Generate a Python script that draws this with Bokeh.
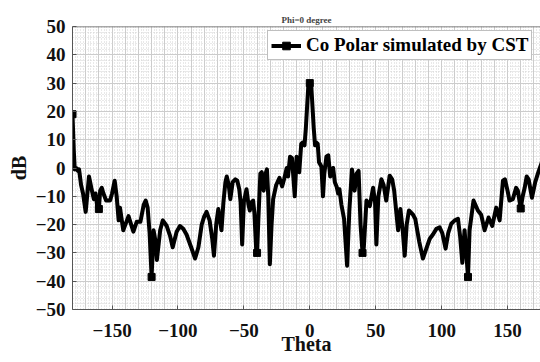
from bokeh.plotting import figure
from bokeh.models import (ColumnDataSource, SingleIntervalTicker, Range1d,
                          Legend, LegendItem, Span)
from bokeh.embed import file_html
from bokeh.resources import INLINE

# Co-polar far-field cut (phi = 0), simulated gain in dB versus theta in degrees
theta_deg = [
    -180, -179, -178.3, -177.2, -176, -175, -173.5, -172, -170, -167.5,
    -165.5, -163.8, -162.5, -161, -160, -159, -157.8, -156.5, -154.5, -151.5,
    -150, -148, -146.5, -145, -144, -141.5, -137.5, -135.5, -133.8, -131.3,
    -128.5, -126, -124.5, -123, -121.5, -120, -118.5, -117, -116, -113.5,
    -111.5, -108.5, -106, -104, -101, -98.5, -96, -93.5, -90, -87,
    -84.5, -82, -80, -78.3, -76, -74, -72.7, -71, -69.4, -67,
    -65.5, -64, -63, -61.5, -60.3, -58.5, -56.5, -55, -53.5, -52.5,
    -51.3, -50, -48, -46.5, -45.5, -44, -43, -42, -40.5, -40,
    -39, -37.5, -36.5, -35, -33.5, -32.5, -31.5, -30.3, -29, -27.8,
    -25.5, -23, -21, -19.5, -17.5, -16.5, -15, -13.5, -12.5, -11.4,
    -10, -9, -8, -6.5, -5.5, -4, -3, -2, -1, 0,
    1, 2, 3, 4, 5, 6, 7, 8.8, 10, 11,
    12.6, 14, 15.5, 17.7, 19, 20.3, 21.5, 22.5, 24, 26,
    28.3, 30, 32, 34, 35.5, 37, 38.5, 40, 41, 43,
    45.5, 48, 49.5, 50.5, 52, 54.3, 56, 58, 60.6, 62.5,
    64, 65.7, 67, 68.7, 70.5, 72, 73.5, 75.2, 78.3, 80,
    83, 85.8, 88, 91, 93.4, 96, 98.5, 100.5, 103, 105,
    107.3, 110, 112.4, 114, 115.7, 117.4, 118.7, 120, 121.2, 124.2,
    127.5, 130, 132.6, 135.6, 138.4, 141.4, 144, 146.5, 148, 150,
    151.5, 154, 156.5, 157.8, 160, 161.5, 163, 164.5, 166, 168.5,
    171, 173, 174.5, 176, 178, 180,
]
co_polar_db = [
    19, 6, -0.5, 0, -1, -0.5, -6, -9, -15.5, -3,
    -7.5, -11, -9, -14.5, -14.5, -8, -7, -9, -11.5, -11.5,
    -9, -4.5, -10, -18.5, -14, -22, -17, -20, -22.5, -19,
    -19, -13, -11.5, -14, -23, -38.5, -22, -26, -32.5, -22,
    -18.5, -20.5, -24, -28, -22.5, -20.5, -21.5, -23.5, -28, -32,
    -28, -20, -17, -15.5, -18.5, -25, -31, -20, -14.5, -22,
    -12, -5, -3, -6, -11, -5, -4, -4.5, -7.5, -12,
    -27, -12, -7.5, -13, -15, -12, -11.5, -16, -30.5, -30,
    -18, -2, -1.5, -8, -2, -0.5, -10, -34, -20, -11,
    -6, -3.5, -6.5, -4, 0, -3, 4, 3.5, -3, -10,
    4, 2, -1.5, 8.5, 9, 8, 14, 22, 30, 30,
    30, 22, 14, 8, 9, 8.5, 2, 0.5, -10, -2,
    4, 4.5, -3, 0, -5, -6.5, -9, -7.5, -13, -18,
    -34.5, -15, -0.5, -8, -2, -1, -20, -30, -28, -11.5,
    -13.5, -7, -12, -27, -10, -4, -6, -11.5, -2.7, -4,
    -8, -16, -22, -14.5, -22, -31, -20, -15, -16.5, -18,
    -26, -32, -29, -25, -23.5, -21.5, -21, -23, -28.5, -23,
    -19.7, -18.5, -18, -24, -33.5, -22, -30, -38.5, -22, -11.5,
    -15, -16.5, -22, -17.5, -20.5, -14, -18.5, -4.5, -4, -8,
    -11.5, -11, -7, -8, -14.3, -10, -7, -3, -4, -10.5,
    -5, -2, 0, 2, 8, 19,
]
# angles at which the square markers are drawn on the curve
marker_theta = [-180, -160, -120, -40, 0, 40, 120, 160]

x_tick_step = 50
y_tick_step = 10
y_max = 50
series_label = "Co Polar simulated by CST"
chart_title = "Phi=0 degree"

SERIF = "Liberation Serif"

lookup = dict(zip(theta_deg, co_polar_db))
marker_db = [lookup[t] for t in marker_theta]

p = figure(width=540, height=362, output_backend="svg", toolbar_location=None,
           x_range=Range1d(-180, 175), y_range=Range1d(-50, y_max),
           min_border_left=72, min_border_right=0, min_border_top=26,
           min_border_bottom=53, title=chart_title)
p.background_fill_color = "white"
p.border_fill_color = "white"
p.outline_line_color = None

p.title.text_font = SERIF
p.title.text_font_style = "bold"
p.title.text_font_size = "9px"
p.title.align = "center"
p.title.standoff = 3
p.title.offset = 3

for ax in (p.xaxis[0], p.yaxis[0]):
    ax.axis_line_color = "#555555"
    ax.axis_line_width = 1
    ax.major_tick_in = 4
    ax.major_tick_out = 0
    ax.major_tick_line_color = "#555555"
    ax.minor_tick_line_color = None
    ax.major_label_text_font = SERIF
    ax.major_label_text_font_style = "bold"
    ax.major_label_text_font_size = "19px"
    ax.major_label_text_color = "#111111"
    ax.axis_label_text_font = SERIF
    ax.axis_label_text_font_style = "bold"
    ax.axis_label_text_font_size = "20px"
    ax.axis_label_text_color = "#111111"

p.xaxis.ticker = SingleIntervalTicker(interval=x_tick_step, num_minor_ticks=0)
p.yaxis.ticker = SingleIntervalTicker(interval=y_tick_step, num_minor_ticks=0)
p.xaxis.axis_label = "Theta"
p.yaxis.axis_label = "dB"
p.xaxis.major_label_standoff = 14
p.xaxis.axis_label_standoff = -7
p.yaxis.major_label_standoff = 7
p.yaxis.axis_label_standoff = 3

# top edge of the axes box
p.add_layout(Span(location=y_max, dimension="width", line_color="#555555",
                  line_width=1.5))

# grid: solid every 10 units, dotted minor lines every 2 units
p.xgrid.ticker = SingleIntervalTicker(interval=10, num_minor_ticks=5)
p.ygrid.ticker = SingleIntervalTicker(interval=10, num_minor_ticks=5)
for g in (p.xgrid[0], p.ygrid[0]):
    g.grid_line_color = "#cccccc"
    g.grid_line_width = 1
    g.minor_grid_line_color = "#d2d2d2"
    g.minor_grid_line_dash = "1 2"
    g.minor_grid_line_width = 1

src = ColumnDataSource(data=dict(theta=theta_deg, db=co_polar_db))
msrc = ColumnDataSource(data=dict(theta=marker_theta, db=marker_db))

line_r = p.line("theta", "db", source=src, line_color="black", line_width=4,
                line_join="round")
mark_r = p.scatter("theta", "db", source=msrc, marker="square", size=7,
                   fill_color="black", line_color="black")

legend = Legend(items=[LegendItem(label=series_label, renderers=[line_r, mark_r])],
                location=(195, 249))
legend.label_text_font = SERIF
legend.label_text_font_style = "bold"
legend.label_text_font_size = "19px"
legend.label_text_color = "black"
legend.label_height = 19
legend.glyph_width = 30
legend.glyph_height = 19
legend.label_standoff = 5
legend.padding = 3
legend.margin = 0
legend.spacing = 0
legend.border_line_color = "#7f7f7f"
legend.border_line_width = 1
legend.background_fill_color = "white"
legend.background_fill_alpha = 1
p.add_layout(legend)

open("out.html", "w").write(file_html(p, INLINE))
